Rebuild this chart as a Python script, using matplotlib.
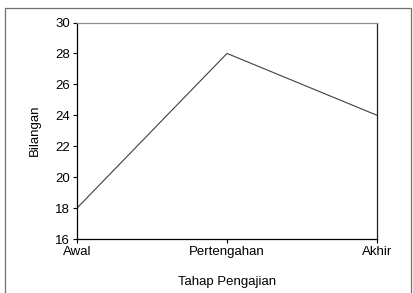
import matplotlib
matplotlib.use("Agg")
import matplotlib.pyplot as plt
from matplotlib.patches import Rectangle

categories = ["Awal", "Pertengahan", "Akhir"]
values = [18, 28, 24]
yticks = [16, 18, 20, 22, 24, 26, 28, 30]

plt.rcParams['font.family'] = ['Liberation Sans', 'DejaVu Sans']

W, H = 413, 293
fig = plt.figure(figsize=(W / 100, H / 100), dpi=100)
fig.patch.set_facecolor('white')

# outer chart border
fig.add_artist(Rectangle((5 / W, -0.05), (411 - 5) / W, (H - 8) / H + 0.05,
                         transform=fig.transFigure, fill=False,
                         edgecolor='#707070', linewidth=0.9))

ax = fig.add_axes([77 / W, 1 - 239 / H, (377 - 77) / W, (239 - 22.5) / H])
x = list(range(len(categories)))
ax.plot(x, values, color='#404040', linewidth=0.8)
ax.set_xlim(0, len(categories) - 1)
ax.set_ylim(16, 30)
ax.set_xticks(x)
ax.set_xticklabels(categories, fontsize=9.5)
ax.set_yticks(yticks)
ax.set_yticklabels([str(v) for v in yticks], fontsize=9.5)
ax.tick_params(axis='both', direction='out', length=3, width=0.8, colors='black', pad=2)
for s in ['left', 'bottom']:
    ax.spines[s].set_color('black')
    ax.spines[s].set_linewidth(0.9)
ax.spines['right'].set_color('#202020')
ax.spines['right'].set_linewidth(0.9)
ax.spines['top'].set_color('#909090')
ax.spines['top'].set_linewidth(0.9)

ax.set_xlabel("Tahap Pengajian", fontsize=9.5, labelpad=13)
ax.set_ylabel("Bilangan", fontsize=9.5, labelpad=10)

fig.savefig("out.png", dpi=100, facecolor='white')
